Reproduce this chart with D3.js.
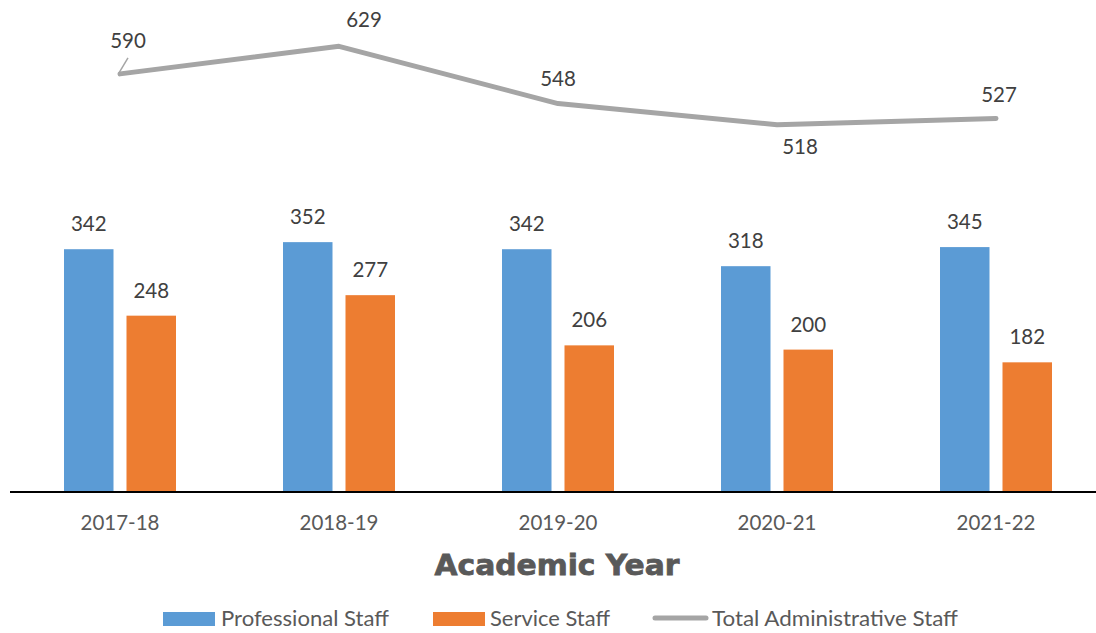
<!DOCTYPE html>
<html>
<head>
<meta charset="utf-8">
<script src="https://cdn.jsdelivr.net/npm/d3@7"></script>
<style>
  html, body { margin: 0; padding: 0; background: #ffffff; }
  svg { display: block; }
</style>
</head>
<body>
<svg id="chart" width="1096" height="633"></svg>
<script>
// ---- data ----
const categories = ["2017-18", "2018-19", "2019-20", "2020-21", "2021-22"];
const professionalStaff = [342, 352, 342, 318, 345];
const serviceStaff = [248, 277, 206, 200, 182];
const totalAdministrativeStaff = [590, 629, 548, 518, 527];
const seriesNames = ["Professional Staff", "Service Staff", "Total Administrative Staff"];

// ---- layout / style ----
const colors = { prof: "#5B9BD5", serv: "#ED7D31", total: "#A5A5A5" };
const totalLabelOffsets = [[8, -26], [25, -19], [0, -18], [23, 29], [3, -16]];
const labelFont = "Lato, 'Open Sans', sans-serif";

const svg = d3.select("#chart");

const x0 = d3.scaleBand().domain(categories).range([10.5, 1105.5]).padding(0);
const x1 = d3.scaleBand().domain(["prof", "serv"]).range([-56, 56]).paddingInner(0.208).paddingOuter(0);
const y = d3.scaleLinear().domain([0, 694.5]).range([491, 0]);

const cx = c => x0(c) + x0.bandwidth() / 2;

const barData = [];
categories.forEach((c, i) => {
  barData.push({ c, key: "prof", v: professionalStaff[i] });
  barData.push({ c, key: "serv", v: serviceStaff[i] });
});

// bars
svg.append("g").selectAll("rect").data(barData).join("rect")
  .attr("x", d => cx(d.c) + x1(d.key))
  .attr("y", d => y(d.v))
  .attr("width", x1.bandwidth())
  .attr("height", d => y(0) - y(d.v))
  .attr("fill", d => colors[d.key]);

// bar labels
svg.append("g").selectAll("text").data(barData).join("text")
  .attr("x", d => cx(d.c) + x1(d.key) + x1.bandwidth() / 2)
  .attr("y", d => y(d.v) - 18)
  .attr("text-anchor", "middle")
  .attr("font-family", labelFont)
  .attr("font-size", 20.5)
  .attr("fill", "#404040")
  .text(d => d.v);

// x axis
const xAxis = d3.axisBottom(x0).tickSize(0).tickPadding(0);
const gx = svg.append("g").attr("transform", `translate(0,${y(0)})`).call(xAxis);
gx.select(".domain").attr("stroke", "#000").attr("stroke-width", 2).attr("d", "M10,1H1096");
gx.selectAll(".tick text")
  .attr("y", 39)
  .attr("dy", 0)
  .attr("font-family", labelFont)
  .attr("font-size", 20.5)
  .attr("fill", "#595959");

// total line
const line = d3.line()
  .x((d, i) => cx(categories[i]))
  .y(d => y(d));
svg.append("path")
  .datum(totalAdministrativeStaff)
  .attr("d", line)
  .attr("fill", "none")
  .attr("stroke", colors.total)
  .attr("stroke-width", 5)
  .attr("stroke-linejoin", "round")
  .attr("stroke-linecap", "round");

// leader line for first label
svg.append("line")
  .attr("x1", cx(categories[0]) - 1).attr("y1", y(totalAdministrativeStaff[0]) - 1)
  .attr("x2", cx(categories[0]) + 8).attr("y2", y(totalAdministrativeStaff[0]) - 16)
  .attr("stroke", colors.total).attr("stroke-width", 1.5);

// total labels
svg.append("g").selectAll("text").data(totalAdministrativeStaff).join("text")
  .attr("x", (d, i) => cx(categories[i]) + totalLabelOffsets[i][0])
  .attr("y", (d, i) => y(d) + totalLabelOffsets[i][1])
  .attr("text-anchor", "middle")
  .attr("font-family", labelFont)
  .attr("font-size", 20.5)
  .attr("fill", "#404040")
  .text(d => d);

// axis title
svg.append("text")
  .attr("x", 557)
  .attr("y", 575)
  .attr("text-anchor", "middle")
  .attr("font-family", "'DejaVu Sans', sans-serif")
  .attr("font-weight", "bold")
  .attr("font-size", 29)
  .attr("stroke", "#595959")
  .attr("stroke-width", 0.8)
  .attr("textLength", 245)
  .attr("lengthAdjust", "spacingAndGlyphs")
  .attr("fill", "#595959")
  .text("Academic Year");

// legend
const lg = svg.append("g").attr("font-family", labelFont).attr("font-size", 22).attr("fill", "#595959");
const legendItems = [
  { name: seriesNames[0], key: "prof", type: "rect", x: 163, tx: 221, w: 168 },
  { name: seriesNames[1], key: "serv", type: "rect", x: 433, tx: 490, w: 120 },
  { name: seriesNames[2], key: "total", type: "line", x: 655, tx: 712, w: 246 }
];
legendItems.forEach(it => {
  if (it.type === "rect") {
    lg.append("rect").attr("x", it.x).attr("y", 612).attr("width", 52).attr("height", 14).attr("fill", colors[it.key]);
  } else {
    lg.append("line").attr("x1", it.x).attr("x2", it.x + 51).attr("y1", 618).attr("y2", 618)
      .attr("stroke", colors[it.key]).attr("stroke-width", 5).attr("stroke-linecap", "round");
  }
  lg.append("text").attr("x", it.tx).attr("y", 626).attr("fill", "#595959")
    .attr("textLength", it.w).attr("lengthAdjust", "spacingAndGlyphs").text(it.name);
});
</script>
</body>
</html>
